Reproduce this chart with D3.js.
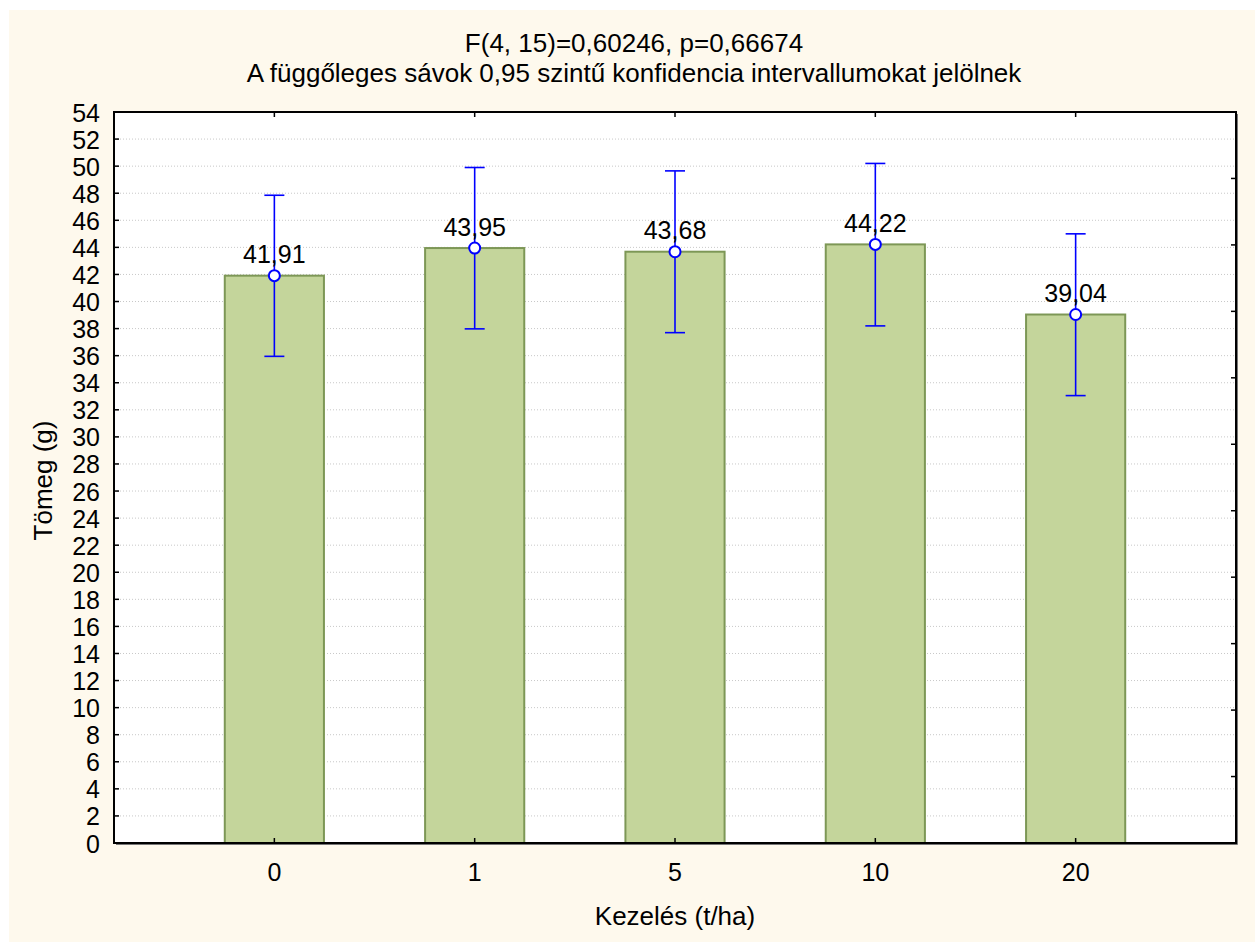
<!DOCTYPE html>
<html>
<head>
<meta charset="utf-8">
<script src="https://cdn.jsdelivr.net/npm/d3@7"></script>
<style>
  html, body { margin: 0; padding: 0; background: #ffffff; }
  svg { display: block; }
  text { font-family: "Liberation Sans", Arial, sans-serif; fill: #000; }
</style>
</head>
<body>
<svg id="chart" width="1255" height="942"></svg>
<script>
// ---- data ----
const categories = ["0", "1", "5", "10", "20"];
const means = [41.91, 43.95, 43.68, 44.22, 39.04];
const lowerCI = [35.95, 37.98, 37.70, 38.20, 33.05];
const upperCI = [47.85, 49.90, 49.65, 50.20, 45.00];
const meanLabels = ["41,91", "43,95", "43,68", "44,22", "39,04"];
const yTicks = d3.range(0, 56, 2);
const titleLines = ["F(4, 15)=0,60246, p=0,66674", "A függőleges sávok 0,95 szintű konfidencia intervallumokat jelölnek"];
const xTitle = "Kezelés (t/ha)";
const yTitle = "Tömeg (g)";

// ---- layout ----
const W = 1255, H = 942;
const L = 114, R = 1236, T = 112, B = 843;

const svg = d3.select("#chart");
svg.append("rect").attr("x", 9).attr("y", 10).attr("width", W - 9).attr("height", H - 10).attr("fill", "#fef9ed");
svg.append("rect").attr("x", L).attr("y", T).attr("width", R - L).attr("height", B - T).attr("fill", "#ffffff");

const x = d3.scaleBand().domain(categories).range([L, R]).paddingInner(0.505).paddingOuter(0.553);
const y = d3.scaleLinear().domain([0, 54]).range([B, T]);
const yRight = d3.scaleLinear().domain([0, 11]).range([B, T]);

// gridlines
svg.append("g").selectAll("line").data(yTicks.filter(d => d > 0 && d < 54)).join("line")
  .attr("x1", L).attr("x2", R).attr("y1", d => y(d)).attr("y2", d => y(d))
  .attr("stroke", "#c8c8c8").attr("stroke-width", 1).attr("stroke-dasharray", "1,2");

// bars
const cx = c => x(c) + x.bandwidth() / 2;
svg.append("g").selectAll("rect").data(categories).join("rect")
  .attr("x", d => x(d)).attr("width", x.bandwidth())
  .attr("y", (d, i) => y(means[i])).attr("height", (d, i) => y(0) - y(means[i]))
  .attr("fill", "#c4d59b").attr("stroke", "#7d9756").attr("stroke-width", 2);

// error bars
const eb = svg.append("g").attr("stroke", "#0000ff").attr("stroke-width", 1.6);
categories.forEach((c, i) => {
  eb.append("line").attr("x1", cx(c)).attr("x2", cx(c)).attr("y1", y(lowerCI[i])).attr("y2", y(upperCI[i]));
  [lowerCI[i], upperCI[i]].forEach(v => {
    eb.append("line").attr("x1", cx(c) - 10).attr("x2", cx(c) + 10).attr("y1", y(v)).attr("y2", y(v));
  });
});

// points
svg.append("g").selectAll("circle").data(categories).join("circle")
  .attr("cx", d => cx(d)).attr("cy", (d, i) => y(means[i])).attr("r", 5.5)
  .attr("fill", "#ffffff").attr("stroke", "#0000ff").attr("stroke-width", 2);

// value labels
svg.append("g").selectAll("text").data(categories).join("text")
  .attr("x", d => cx(d)).attr("y", (d, i) => y(means[i]) - 12.5)
  .attr("text-anchor", "middle").attr("font-size", 25)
  .text((d, i) => meanLabels[i]);

// axes
const axLeft = d3.axisLeft(y).tickValues(yTicks).tickSize(0).tickPadding(14).tickFormat(d3.format("d"));
const gL = svg.append("g").attr("transform", `translate(${L},0)`).call(axLeft);
gL.select(".domain").remove();
gL.selectAll("text").attr("font-size", 25).attr("font-family", "Liberation Sans, Arial, sans-serif").attr("dy", "0.36em");

const axBottom = d3.axisBottom(x).tickSize(0).tickPadding(20);
const gB = svg.append("g").attr("transform", `translate(0,${B})`).call(axBottom);
gB.select(".domain").remove();
gB.selectAll("text").attr("font-size", 25).attr("font-family", "Liberation Sans, Arial, sans-serif");

// inward tick marks
const tk = svg.append("g").attr("stroke", "#000").attr("stroke-width", 1.5);
yTicks.forEach(v => tk.append("line").attr("x1", L).attr("x2", L + 5).attr("y1", y(v)).attr("y2", y(v)));
categories.forEach(c => {
  tk.append("line").attr("x1", cx(c)).attr("x2", cx(c)).attr("y1", B).attr("y2", B - 5);
  tk.append("line").attr("x1", cx(c)).attr("x2", cx(c)).attr("y1", T).attr("y2", T + 5);
});
d3.range(1, 11).forEach(v => tk.append("line").attr("x1", R).attr("x2", R - 5).attr("y1", yRight(v)).attr("y2", yRight(v)));

// frame
svg.append("line").attr("x1", R + 1.5).attr("x2", R + 1.5).attr("y1", T + 2).attr("y2", B + 1.5).attr("stroke", "#777").attr("stroke-width", 1);
svg.append("line").attr("x1", L + 2).attr("x2", R + 1.5).attr("y1", B + 1.5).attr("y2", B + 1.5).attr("stroke", "#777").attr("stroke-width", 1);
svg.append("rect").attr("x", L).attr("y", T).attr("width", R - L).attr("height", B - T)
  .attr("fill", "none").attr("stroke", "#000").attr("stroke-width", 2);

// titles
const tt = svg.append("text").attr("text-anchor", "middle").attr("font-size", 26);
titleLines.forEach((t, i) => tt.append("tspan").attr("x", 634).attr("y", 52 + i * 30).text(t));

svg.append("text").attr("x", (L + R) / 2).attr("y", 925).attr("text-anchor", "middle").attr("font-size", 26).text(xTitle);
svg.append("text").attr("transform", `translate(52,${(T + B) / 2 + 3}) rotate(-90)`).attr("text-anchor", "middle").attr("font-size", 26).text(yTitle);
</script>
</body>
</html>
